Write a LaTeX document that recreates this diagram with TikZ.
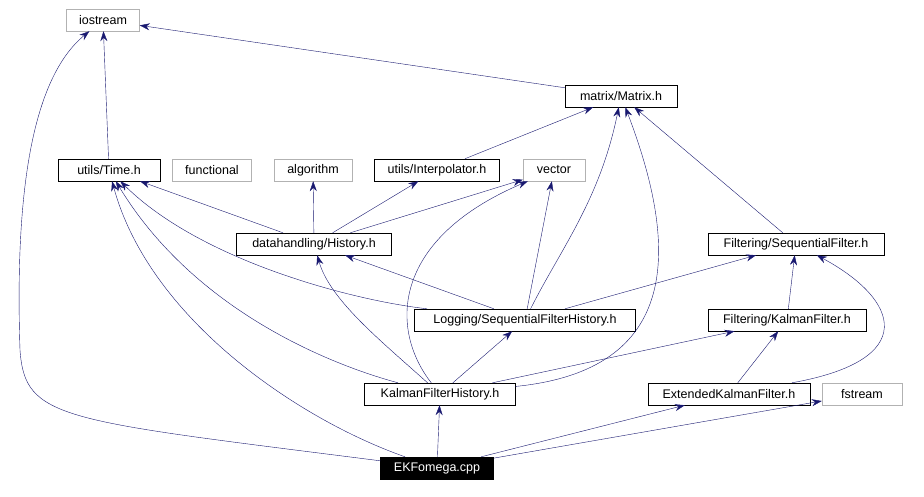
\documentclass[tikz,border=0pt]{standalone}
\usepackage{fontspec}
\setmainfont{Liberation Sans}
\usetikzlibrary{arrows.meta}
\definecolor{edgeblue}{HTML}{191970}
\tikzstyle{file}=[draw=black,fill=white,minimum height=22pt,inner sep=2pt,font=\fontsize{12.5}{14}\selectfont]
\tikzstyle{sys}=[file,draw=gray!60]
\tikzstyle{dep}=[->,>={Stealth[length=10pt,width=7pt]},edgeblue]

\begin{document}
\begin{tikzpicture}[x=1pt,y=-1pt]
\useasboundingbox (0,0) rectangle (924,497);
\node[sys, minimum width=73pt] at (103, 20) (io) {iostream};
\node[file, minimum width=112pt] at (621, 96) (mat) {matrix/Matrix.h};
\node[file, minimum width=102pt] at (109, 170) (time) {utils/Time.h};
\node[sys, minimum width=79pt] at (212, 170) (func) {functional};
\node[sys, minimum width=78pt] at (313, 170) (algo) {algorithm};
\node[file, minimum width=125pt] at (437, 170) (interp) {utils/Interpolator.h};
\node[sys, minimum width=62pt] at (554, 170) (vec) {vector};
\node[file, minimum width=155pt] at (314, 244) (hist) {datahandling/History.h};
\node[file, minimum width=176pt] at (796, 244) (sf) {Filtering/SequentialFilter.h};
\node[file, minimum width=221pt] at (525, 320) (sfh) {Logging/SequentialFilterHistory.h};
\node[file, minimum width=158pt] at (787, 320) (kf) {Filtering/KalmanFilter.h};
\node[file, minimum width=151pt] at (440, 394) (kfh) {KalmanFilterHistory.h};
\node[file, minimum width=162pt] at (729, 394) (ekf) {ExtendedKalmanFilter.h};
\node[sys, minimum width=80pt] at (862, 394) (fs) {fstream};
\node[file, fill=black, text=white, minimum width=113pt] at (437, 468) (main) {EKFomega.cpp};
% includes of EKFomega.cpp
\draw[dep] (main) .. controls (60,420) and (25,420) .. (20,350) .. controls (15,200) and (30,80) .. (io);
\draw[dep] (main) .. controls (300,420) and (150,320) .. (time);
\draw[dep] (main) -- (kfh);
\draw[dep] (main) -- (ekf);
\draw[dep] (main) -- (fs);
% headers
\draw[dep] (mat) -- (io);
\draw[dep] (time) -- (io);
\draw[dep] (hist) -- (time);
\draw[dep] (hist) -- (algo);
\draw[dep] (hist) -- (interp);
\draw[dep] (hist) -- (vec);
\draw[dep] (interp) -- (mat);
\draw[dep] (sf) -- (mat);
\draw[dep] (sfh) .. controls (350,300) and (200,260) .. (time);
\draw[dep] (sfh) -- (hist);
\draw[dep] (sfh) .. controls (560,250) and (600,200) .. (mat);
\draw[dep] (sfh) -- (vec);
\draw[dep] (sfh) -- (sf);
\draw[dep] (kf) -- (sf);
\draw[dep] (kfh) .. controls (350,370) and (200,320) .. (time);
\draw[dep] (kfh) .. controls (380,340) and (330,300) .. (hist);
\draw[dep] (kfh) .. controls (390,330) and (390,240) .. (vec);
\draw[dep] (kfh) -- (sfh);
\draw[dep] (kfh) .. controls (680,370) and (680,250) .. (mat);
\draw[dep] (kfh) -- (kf);
\draw[dep] (ekf) -- (kf);
\draw[dep] (ekf) .. controls (920,360) and (900,300) .. (sf);
\end{tikzpicture}
\end{document}
